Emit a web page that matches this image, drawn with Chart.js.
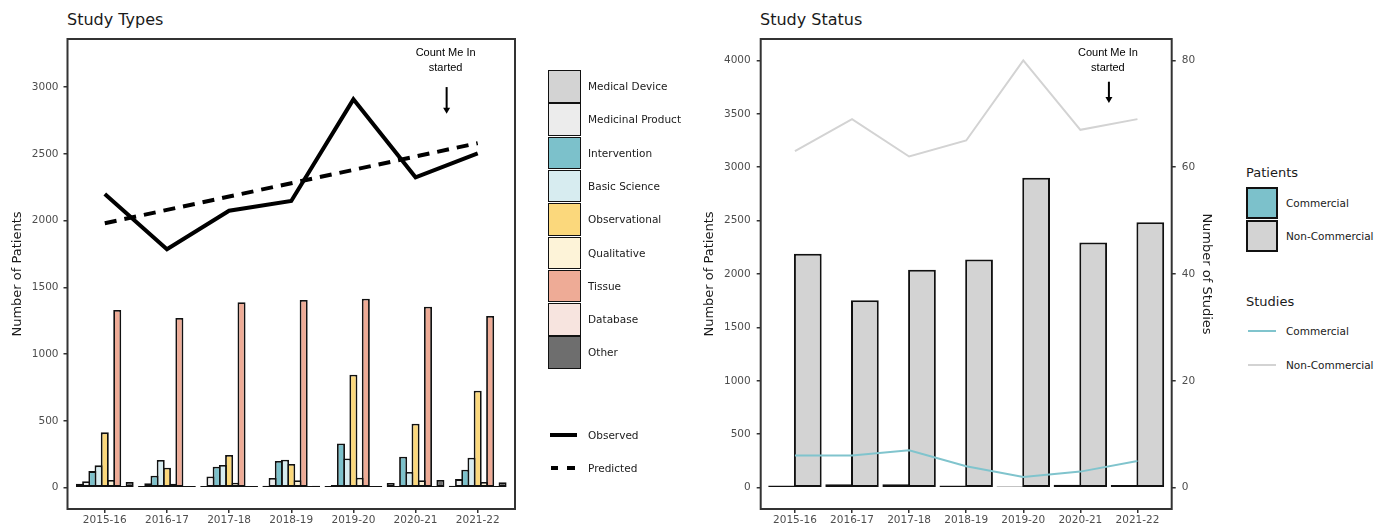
<!DOCTYPE html>
<html>
<head>
<meta charset="utf-8">
<title>Study Types / Study Status</title>
<script src="https://cdn.jsdelivr.net/npm/chart.js@4.4.1/dist/chart.umd.min.js"></script>
<style>
  body { margin: 0; width: 1376px; height: 527px; position: relative; overflow: hidden; background: #fff;
         font-family: "DejaVu Sans", Verdana, sans-serif; color: #1a1a1a; }
  canvas { position: absolute; top: 0; }
  .title { position: absolute; font-size: 16px; line-height: 16px; white-space: nowrap; }
  .key { position: absolute; box-sizing: border-box; border: 1.6px solid #111; }
  .lab { position: absolute; font-size: 10.5px; line-height: 12px; white-space: nowrap; }
  .head { position: absolute; font-size: 13px; line-height: 14px; white-space: nowrap; }
  .bar { position: absolute; }
</style>
</head>
<body>
<div class="title" style="left:67px;top:11.5px">Study Types</div>
<div class="title" style="left:760px;top:11.5px">Study Status</div>
<canvas id="typesChart" width="540" height="527" style="left:0"></canvas>
<canvas id="statusChart" width="550" height="527" style="left:680px"></canvas>
<div id="typesLegend"></div>
<div id="statusLegend"></div>
<script>
const periods = ["2015-16", "2016-17", "2017-18", "2018-19", "2019-20", "2020-21", "2021-22"];

// Study Types - patients per study type
const studyTypes = ["Medical Device", "Medicinal Product", "Intervention", "Basic Science",
  "Observational", "Qualitative", "Tissue", "Database", "Other"];
const typeColours = ["#d3d3d3", "#ececec", "#7cc1cb", "#d7ecf0", "#fbd87c", "#fdf3d8", "#eeab96", "#f7e4df", "#6e6e6e"];
const medicalDevice    = [30, 12, 12, 15, 12, 35, 14];
const medicinalProduct = [48, 32, 84, 72, 20, 12, 64];
const intervention     = [124, 89, 157, 199, 330, 232, 134];
const basicScience     = [167, 207, 169, 209, 218, 117, 224];
const observational    = [414, 149, 244, 177, 846, 479, 726];
const qualitative      = [57, 30, 37, 55, 74, 55, 42];
const tissue           = [1330, 1270, 1388, 1405, 1415, 1355, 1285];
const database         = [12, 12, 12, 12, 12, 12, 12];
const other            = [42, 12, 12, 15, 12, 57, 40];

const observedPatients  = [2200, 1785, 2074, 2147, 2908, 2324, 2504];
const predictedPatients = [1980, 2080, 2180, 2280, 2380, 2480, 2580];

// Study Status
const commercialPatients    = [20, 32, 32, 20, 10, 26, 24];
const nonCommercialPatients = [2190, 1755, 2040, 2135, 2900, 2295, 2485];
const commercialStudies     = [6, 6, 7, 4, 2, 3, 5];
const nonCommercialStudies  = [63, 69, 62, 65, 80, 67, 69];

const typesTicks    = [0, 500, 1000, 1500, 2000, 2500, 3000];
const patientTicks  = [0, 500, 1000, 1500, 2000, 2500, 3000, 3500, 4000];
const studyTicks    = [0, 20, 40, 60, 80];

// "Count Me In started" note, in data units
const noteLines = ["Count Me In", "started"];
const noteX = 6.5;

Chart.defaults.font.family = '"DejaVu Sans", Verdana, sans-serif';
Chart.defaults.color = "#4d4d4d";

const typeSeries = [medicalDevice, medicinalProduct, intervention, basicScience,
  observational, qualitative, tissue, database, other];

function points(values) {
  return values.map((v, i) => ({ x: i + 1, y: v }));
}

const framePlugin = {
  id: "frame",
  afterDatasetsDraw(chart) {
    const { ctx, chartArea: a } = chart;
    ctx.save();
    ctx.strokeStyle = "#333";
    ctx.lineWidth = 2;
    ctx.strokeRect(a.left, a.top, a.right - a.left, a.bottom - a.top);
    ctx.restore();
  }
};

function notePlugin(textY, arrowFrom, arrowTo) {
  return {
    id: "note",
    afterDatasetsDraw(chart) {
      const { ctx } = chart;
      const xs = chart.scales.x, ys = chart.scales.y;
      const px = xs.getPixelForValue(noteX);
      const cy = ys.getPixelForValue(textY);
      ctx.save();
      ctx.fillStyle = "#000";
      ctx.strokeStyle = "#000";
      ctx.font = '11px "Liberation Sans", Arial, sans-serif';
      ctx.textAlign = "center";
      ctx.textBaseline = "middle";
      ctx.fillText(noteLines[0], px - 1, cy - 7.5);
      ctx.fillText(noteLines[1], px - 1, cy + 7.5);
      const y1 = ys.getPixelForValue(arrowFrom);
      const y2 = ys.getPixelForValue(arrowTo);
      ctx.lineWidth = 2;
      ctx.beginPath();
      ctx.moveTo(px, y1);
      ctx.lineTo(px, y2 - 4);
      ctx.stroke();
      ctx.beginPath();
      ctx.moveTo(px - 3.5, y2 - 6);
      ctx.lineTo(px + 3.5, y2 - 6);
      ctx.lineTo(px, y2);
      ctx.closePath();
      ctx.fill();
      ctx.restore();
    }
  };
}

const tickFont = { size: 10.5 };
function tickGrid() {
  return { display: true, offset: false, drawOnChartArea: false, drawTicks: true, tickLength: 4, color: "#333", lineWidth: 1.5 };
}

function xAxis() {
  return {
    type: "linear",
    offset: false,
    min: 0.4,
    max: 7.6,
    grid: tickGrid(),
    border: { display: false },
    afterBuildTicks: s => { s.ticks = periods.map((p, i) => ({ value: i + 1 })); },
    afterFit: s => { s.height = 18; },
    ticks: { font: tickFont, padding: 1, autoSkip: false, maxRotation: 0, callback: v => periods[v - 1] }
  };
}

// Study Types chart
const typeDatasets = studyTypes.map((name, i) => ({
  type: "bar",
  label: name,
  data: points(typeSeries[i]),
  backgroundColor: typeColours[i],
  borderColor: "#111",
  borderWidth: 1.8,
  borderSkipped: false,
  categoryPercentage: 0.9,
  barPercentage: 1.29,
  order: 2
}));

new Chart(document.getElementById("typesChart"), {
  type: "bar",
  data: {
    datasets: [
      ...typeDatasets,
      { type: "line", label: "Observed", data: points(observedPatients), borderColor: "#000",
        borderWidth: 4, pointRadius: 0, fill: false, tension: 0, order: 0 },
      { type: "line", label: "Predicted", data: points(predictedPatients), borderColor: "#000",
        borderWidth: 4, borderDash: [12, 8], pointRadius: 0, fill: false, tension: 0, order: 0 }
    ]
  },
  options: {
    responsive: false,
    animation: false,
    layout: { padding: { left: 0, right: 25, top: 39, bottom: 0 } },
    plugins: { legend: { display: false }, tooltip: { enabled: false } },
    scales: {
      x: xAxis(),
      y: {
        type: "linear",
        min: -160,
        max: 3360,
        grid: tickGrid(),
        border: { display: false },
        afterBuildTicks: s => { s.ticks = typesTicks.map(v => ({ value: v })); },
        afterFit: s => { s.width = 67.5; },
        ticks: { font: tickFont, padding: 5, callback: v => String(v) },
        title: { display: true, text: "Number of Patients", color: "#1a1a1a", font: { size: 13 }, padding: { top: 10 } }
      }
    }
  },
  plugins: [framePlugin, notePlugin(3200, 3000, 2800)]
});

// Study Status chart
new Chart(document.getElementById("statusChart"), {
  type: "bar",
  data: {
    datasets: [
      { type: "bar", label: "Commercial", data: points(commercialPatients), backgroundColor: "#7cc1cb",
        borderColor: "#111", borderWidth: 2, borderSkipped: false, categoryPercentage: 0.9, barPercentage: 1.08, yAxisID: "y", order: 2 },
      { type: "bar", label: "Non-Commercial", data: points(nonCommercialPatients), backgroundColor: "#d3d3d3",
        borderColor: "#111", borderWidth: 2, borderSkipped: false, categoryPercentage: 0.9, barPercentage: 1.08, yAxisID: "y", order: 2 },
      { type: "line", label: "Commercial studies", data: points(commercialStudies), borderColor: "#80c4cd",
        borderWidth: 2, pointRadius: 0, fill: false, tension: 0, yAxisID: "y2", order: 0 },
      { type: "line", label: "Non-Commercial studies", data: points(nonCommercialStudies), borderColor: "#d3d3d3",
        borderWidth: 2, pointRadius: 0, fill: false, tension: 0, yAxisID: "y2", order: 0 }
    ]
  },
  options: {
    responsive: false,
    animation: false,
    layout: { padding: { left: 0, right: 0, top: 39, bottom: 0 } },
    plugins: { legend: { display: false }, tooltip: { enabled: false } },
    scales: {
      x: xAxis(),
      y: {
        type: "linear",
        position: "left",
        min: -200,
        max: 4200,
        grid: tickGrid(),
        border: { display: false },
        afterBuildTicks: s => { s.ticks = patientTicks.map(v => ({ value: v })); },
        afterFit: s => { s.width = 80.7; },
        ticks: { font: tickFont, padding: 6, callback: v => String(v) },
        title: { display: true, text: "Number of Patients", color: "#1a1a1a", font: { size: 13 }, padding: { top: 22 } }
      },
      y2: {
        type: "linear",
        position: "right",
        min: -4,
        max: 84,
        grid: tickGrid(),
        border: { display: false },
        afterBuildTicks: s => { s.ticks = studyTicks.map(v => ({ value: v })); },
        afterFit: s => { s.width = 58.3; },
        ticks: { font: tickFont, padding: 6, callback: v => String(v) },
        title: { display: true, text: "Number of Studies", color: "#1a1a1a", font: { size: 13 }, padding: { top: 16 } }
      }
    }
  },
  plugins: [framePlugin, notePlugin(4000, 3800, 3600)]
});

// Legends
const typesLegend = document.getElementById("typesLegend");
studyTypes.forEach((name, i) => {
  const top = 70 + i * 33.3;
  typesLegend.insertAdjacentHTML("beforeend",
    `<div class="key" style="left:548px;top:${top}px;width:32.5px;height:32.5px;background:${typeColours[i]}"></div>` +
    `<div class="lab" style="left:588px;top:${top + 10}px">${name}</div>`);
});
typesLegend.insertAdjacentHTML("beforeend",
  `<div class="bar" style="left:550px;top:433px;width:27px;height:4px;background:#000"></div>` +
  `<div class="lab" style="left:588px;top:429px">Observed</div>` +
  `<div class="bar" style="left:550.5px;top:465.5px;width:7px;height:4px;background:#000"></div>` +
  `<div class="bar" style="left:566.5px;top:465.5px;width:8.5px;height:4px;background:#000"></div>` +
  `<div class="lab" style="left:588px;top:461.5px">Predicted</div>`);

const statusLegend = document.getElementById("statusLegend");
statusLegend.innerHTML =
  `<div class="head" style="left:1246px;top:166px">Patients</div>` +
  `<div class="key" style="left:1246px;top:186.5px;width:31.5px;height:32px;border-width:2px;background:#7cc1cb"></div>` +
  `<div class="lab" style="left:1286px;top:196.5px">Commercial</div>` +
  `<div class="key" style="left:1246px;top:219.5px;width:31.5px;height:32px;border-width:2px;background:#d3d3d3"></div>` +
  `<div class="lab" style="left:1286px;top:230px">Non-Commercial</div>` +
  `<div class="head" style="left:1246px;top:294.5px">Studies</div>` +
  `<div class="bar" style="left:1248px;top:330px;width:28px;height:2px;background:#80c4cd"></div>` +
  `<div class="lab" style="left:1286px;top:325px">Commercial</div>` +
  `<div class="bar" style="left:1248px;top:363.5px;width:28px;height:2px;background:#d3d3d3"></div>` +
  `<div class="lab" style="left:1286px;top:358.5px">Non-Commercial</div>`;
</script>
</body>
</html>
